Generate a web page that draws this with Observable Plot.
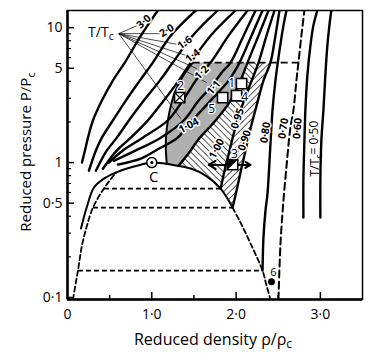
<!DOCTYPE html>
<html>
<head>
<meta charset="utf-8">
<script src="https://cdn.jsdelivr.net/npm/d3@7"></script>
<script src="https://cdn.jsdelivr.net/npm/@observablehq/plot@0.6"></script>
<style>
html,body{margin:0;padding:0;background:#fff;}
#chart svg{display:block;}
</style>
</head>
<body>
<div id="chart"></div>
<script>
// ================= DATA (reduced density rho/rho_c, reduced pressure P/P_c) =================
const xDomain = [0, 3.5];
const yDomain = [0.0966, 13.4];
const xMajorTicks = [0, 1, 2, 3];
const xMinorTicks = [0.5, 1.5, 2.5];
const yMajorTicks = [0.1, 0.5, 1, 5, 10];
const yMinorTicks = [0.2, 0.3, 0.4, 0.6, 0.7, 0.8, 0.9, 2, 3, 4, 6, 7, 8, 9];

// isotherms T/Tc
const t300Rho = [0.172,0.207,0.243,0.302,0.408,0.538,0.680,0.870,1.071];
const t300P   = [1.00,1.23,1.53,2.05,2.88,4.05,5.51,8.72,13.4];
const t200Rho = [0.254,0.337,0.408,0.538,0.692,0.858,1.012,1.225,1.521];
const t200P   = [0.87,1.23,1.53,2.05,2.88,4.05,5.51,8.72,13.4];
const t160Rho = [0.337,0.467,0.586,0.728,0.905,1.095,1.249,1.485,1.781];
const t160P   = [0.87,1.23,1.53,2.05,2.88,4.05,5.51,8.72,13.4];
const t140Rho = [0.420,0.586,0.751,0.953,1.142,1.320,1.462,1.698,1.994];
const t140P   = [0.90,1.23,1.53,2.05,2.88,4.05,5.51,8.72,13.4];
const t120Rho = [0.491,0.657,0.893,1.189,1.367,1.521,1.580,1.698,1.911,2.136];
const t120P   = [1.00,1.23,1.53,2.05,2.88,4.05,4.56,5.51,8.72,13.4];
const t110Rho = [0.550,0.811,1.107,1.379,1.556,1.710,1.828,1.935,2.089,2.231];
const t110P   = [1.03,1.23,1.53,2.05,2.88,3.66,4.64,5.51,8.72,13.4];
const t104Rho = [0.598,0.870,1.047,1.308,1.426,1.698,1.911,2.041,2.183,2.314];
const t104P   = [0.966,1.07,1.23,1.53,1.88,2.88,4.05,5.51,8.72,13.4];
const t100Rho = [1.320,1.462,1.544,1.757,1.935,2.053,2.136,2.266,2.385];
const t100P   = [0.95,1.23,1.46,2.05,2.88,4.05,5.51,8.72,13.4];
const t095Rho = [1.817,1.864,1.923,1.982,2.053,2.148,2.266,2.361,2.456];
const t095P   = [0.642,0.872,1.23,1.73,2.43,3.53,5.51,8.72,13.4];
const t090Rho = [1.959,2.006,2.053,2.112,2.172,2.243,2.325,2.408,2.467,2.515];
const t090P   = [0.464,0.620,0.843,1.23,1.79,2.64,4.05,5.51,8.72,13.4];
const t080Rho = [2.314,2.325,2.349,2.373,2.408,2.432,2.467,2.515,2.562,2.598];
const t080P   = [0.158,0.278,0.441,0.589,1.38,2.43,4.05,6.75,10.35,13.4];
const t070Rho = [2.503,2.527,2.562,2.586,2.645,2.680,2.716,2.740,2.775,2.811];
const t070P   = [0.0966,0.251,0.523,0.774,1.82,2.43,4.05,5.51,8.72,13.4];
const t060Rho = [2.799,2.799,2.811,2.822,2.846,2.882,2.917,2.964];
const t060P   = [0.391,0.736,1.46,2.43,4.41,7.36,10.35,13.4];
const t050Rho = [3.000,3.000,3.012,3.036,3.059,3.083,3.107,3.130];
const t050P   = [0.391,0.736,1.46,2.43,4.41,7.36,10.35,13.4];

// saturation (coexistence) curve, solid
const satRho = [0.160,0.231,0.314,0.432,0.574,0.834,1.000,1.225,1.462,1.639,1.817,1.959];
const satP   = [0.324,0.472,0.653,0.761,0.843,0.950,1.000,0.966,0.903,0.801,0.642,0.464];
// dashed boundary branches
const dashLeftRho  = [0.065,0.101,0.124,0.172,0.231,0.302,0.432,0.574];
const dashLeftP    = [0.0966,0.131,0.158,0.243,0.341,0.464,0.642,0.843];
const dashRightRho = [1.959,2.053,2.172,2.314,2.361,2.408];
const dashRightP   = [0.464,0.359,0.251,0.158,0.123,0.0966];
// dashed tie lines (T/Tc = 0.95, 0.90, 0.80)
const tieP    = [0.642, 0.464, 0.158];
const tieRhoL = [0.432, 0.302, 0.124];
const tieRhoR = [1.817, 1.959, 2.314];
// dashed upper pressure limit
const topDashP = 5.51;
const topDashRho = [1.485, 2.740];
// left boundary of shaded region
const grayLeftRho = [1.178,1.166,1.178,1.213,1.272,1.367,1.485];
const grayLeftP   = [0.973,1.34,1.79,2.43,3.30,4.34,5.51];

// isotherm labels
const isoLabelText = ["3·0","2·0","1·6","1·4","1·2","1·1","1·04","1·00","0·95","0·90","0·80","0·70","0·60"];
const isoLabelRho  = [0.905,1.178,1.391,1.485,1.592,1.734,1.438,1.769,2.018,2.101,2.349,2.562,2.728];
const isoLabelP    = [11.08,9.50,7.74,6.20,4.64,3.59,1.88,1.27,2.12,1.46,1.67,1.79,1.79];
// leader lines from the "T/Tc" label
const leaderOriginRho = 0.609, leaderOriginP = 9.03;
const leaderToRho = [0.846,1.095,1.320,1.414,1.533,1.651,1.343];
const leaderToP   = [10.5,9.03,7.48,6.20,4.97,3.91,2.12];
const tTcLabel = {rho: 0.396, P: 9.18, text: "T/T_c"};
const t050Label = {rho: 2.941, P: 1.27, text: "T/T_c= 0·50"};

// state points
const critRho = 1.0, critP = 1.0;
const sqRho = [2.065, 2.006, 1.840];   // points 1, 4, 5
const sqP   = [3.85, 3.13, 3.03];
const pt2Rho = 1.331, pt2P = 3.03;
const pt3Rho = 1.959, pt3P = 0.966;
const pt6Rho = 2.420, pt6P = 0.131;
const ptLabelText = ["1","2","3","4","5","6","C"];
const ptLabelRho  = [1.947,1.343,1.982,2.101,1.710,2.444,1.024];
const ptLabelP    = [3.85,3.66,1.15,3.03,2.47,0.152,0.774];
const arrowRhoEnds = [1.675, 2.172];
const arrowP = 0.96;

// ================= STYLE =================
const W = 376, H = 360, mL = 67, mR = 14, mT = 10, mB = 61;
const FW = W - mL - mR, FH = H - mT - mB;
const FONT = "'Open Sans', 'DejaVu Sans', sans-serif";
const isoLabelRot = [-42,-32,-35,-38,-45,-50,-28,-62,-72,-72,-82,-82,-85];
const ptLabelSize = [12,12,12,12,12,11,15];
const ptLabelWeight = ["bold","bold","bold","bold","bold","bold","normal"];

// ================= BUILD =================
const S = (rho, P) => rho.map((r, i) => ({rho: r, P: P[i]}));
const solidIso = [
  ["3.0", t300Rho, t300P], ["2.0", t200Rho, t200P], ["1.6", t160Rho, t160P],
  ["1.4", t140Rho, t140P], ["1.2", t120Rho, t120P], ["1.1", t110Rho, t110P],
  ["1.04", t104Rho, t104P], ["1.00", t100Rho, t100P], ["0.95", t095Rho, t095P],
  ["0.90", t090Rho, t090P], ["0.80", t080Rho, t080P], ["0.60", t060Rho, t060P],
  ["0.50", t050Rho, t050P]
];
const isoData = solidIso.flatMap(([t, r, p]) => S(r, p).map(d => ({...d, t})));
const below = d => d.P <= topDashP + 0.01;
const grayPoly = [...S(grayLeftRho, grayLeftP), ...S(t100Rho, t100P).filter(below).reverse()];
const hatchAPoly = [
  ...S(t100Rho, t100P).filter(below),
  ...S(t095Rho, t095P).filter(below).reverse(),
  ...S(satRho, satP).filter(d => d.rho > 1.33 && d.rho < 1.81).reverse()
];
const hatchBPoly = [...S(t095Rho, t095P).filter(below), ...S(t090Rho, t090P).filter(below).reverse()];

const halfSquare = {draw(ctx, size) { const s = Math.sqrt(size) / 2; ctx.moveTo(-s, -s); ctx.lineTo(s, -s); ctx.lineTo(-s, s); ctx.closePath(); }};
const xFmt = d => d === 0 ? "0" : d.toFixed(1).replace(".", "·");
const yFmt = d => String(d).replace(".", "·");

const plot = Plot.plot({
  width: W, height: H, marginLeft: mL, marginRight: mR, marginTop: mT, marginBottom: mB,
  style: {fontFamily: FONT, fontSize: "14px", background: "white", color: "black"},
  x: {domain: xDomain},
  y: {type: "log", domain: yDomain},
  marks: [
    // shaded regions
    Plot.line(grayPoly, {x: "rho", y: "P", fill: "#b0b0b0", stroke: "none"}),
    Plot.line(hatchAPoly, {x: "rho", y: "P", fill: "url(#hatchA)", stroke: "none"}),
    Plot.line(hatchBPoly, {x: "rho", y: "P", fill: "url(#hatchB)", stroke: "none"}),
    // inward ticks
    Plot.ruleX(xMajorTicks.slice(1), {x: d => d, insetTop: FH - 7, strokeWidth: 1.5}),
    Plot.ruleX(xMinorTicks, {x: d => d, insetTop: FH - 4, strokeWidth: 1.5}),
    Plot.ruleY(yMajorTicks, {y: d => d, insetRight: FW - 7, strokeWidth: 1.5}),
    Plot.ruleY(yMinorTicks, {y: d => d, insetRight: FW - 4, strokeWidth: 1.2}),
    // axis tick labels
    Plot.axisX({ticks: xMajorTicks, tickSize: 0, tickPadding: 10, tickFormat: xFmt, fontSize: 14, label: null}),
    Plot.axisY({ticks: yMajorTicks, tickSize: 0, tickPadding: 5, tickFormat: yFmt, fontSize: 14, label: null}),
    // leader lines
    Plot.link(leaderToRho, {x1: () => leaderOriginRho, y1: () => leaderOriginP, x2: d => d, y2: (d, i) => leaderToP[i], strokeWidth: 0.7}),
    // isotherms
    Plot.line(isoData, {x: "rho", y: "P", z: "t", curve: "catmull-rom", strokeWidth: 2.4, clip: true}),
    Plot.line(S(t070Rho, t070P), {x: "rho", y: "P", curve: "catmull-rom", strokeWidth: 2, strokeDasharray: "7,4", clip: true}),
    // coexistence curve and dashed boundaries
    Plot.line(S(satRho, satP), {x: "rho", y: "P", curve: "catmull-rom", strokeWidth: 2}),
    Plot.line(S(dashLeftRho, dashLeftP), {x: "rho", y: "P", curve: "catmull-rom", strokeWidth: 1.8, strokeDasharray: "5,3", clip: true}),
    Plot.line(S(dashRightRho, dashRightP), {x: "rho", y: "P", curve: "catmull-rom", strokeWidth: 1.8, strokeDasharray: "5,3", clip: true}),
    Plot.link(tieP, {x1: (d, i) => tieRhoL[i], x2: (d, i) => tieRhoR[i], y1: d => d, y2: d => d, strokeWidth: 1.8, strokeDasharray: "5,3"}),
    Plot.link([topDashP], {x1: () => topDashRho[0], x2: () => topDashRho[1], y1: d => d, y2: d => d, strokeWidth: 1.8, strokeDasharray: "7,4"}),
    Plot.line(S(grayLeftRho, grayLeftP), {x: "rho", y: "P", curve: "catmull-rom", strokeWidth: 2}),
    // isotherm labels
    Plot.text(isoLabelText, {x: (d, i) => isoLabelRho[i], y: (d, i) => isoLabelP[i], text: d => d, rotate: (d, i) => isoLabelRot[i],
      fontSize: 10.5, fontWeight: "bold", fill: "black", stroke: "white", strokeWidth: 3}),
    Plot.text([tTcLabel], {x: "rho", y: "P", text: "text", fontSize: 14}),
    Plot.text([t050Label], {x: "rho", y: "P", text: "text", rotate: -90, fontSize: 12}),
    // arrows at point 3
    Plot.arrow(arrowRhoEnds, {x1: () => pt3Rho, y1: () => arrowP, x2: d => d, y2: () => arrowP, strokeWidth: 2, headLength: 8}),
    // state points
    Plot.dot([0], {x: () => critRho, y: () => critP, r: 5, fill: "white", stroke: "black", strokeWidth: 1.5}),
    Plot.dot([0], {x: () => critRho, y: () => critP, r: 1.6, fill: "black"}),
    Plot.dot(sqRho, {x: d => d, y: (d, i) => sqP[i], symbol: "square", r: 5.8, fill: "white", stroke: "black", strokeWidth: 1.6}),
    Plot.dot([0], {x: () => pt2Rho, y: () => pt2P, symbol: "square", r: 5.8, fill: "white", stroke: "black", strokeWidth: 1.6}),
    Plot.dot([0], {x: () => pt2Rho, y: () => pt2P, symbol: "times", r: 4, stroke: "black", strokeWidth: 1.2}),
    Plot.dot([0], {x: () => pt3Rho, y: () => pt3P, symbol: "square", r: 5.8, fill: "white", stroke: "black", strokeWidth: 1.6}),
    Plot.dot([0], {x: () => pt3Rho, y: () => pt3P, symbol: halfSquare, r: 5.8, fill: "black"}),
    Plot.dot([0], {x: () => pt6Rho, y: () => pt6P, r: 3.5, fill: "black"}),
    Plot.text(ptLabelText, {x: (d, i) => ptLabelRho[i], y: (d, i) => ptLabelP[i], text: d => d, fontSize: (d, i) => ptLabelSize[i],
      fontWeight: (d, i) => ptLabelWeight[i], fill: "black", stroke: "white", strokeWidth: 2.5}),
    // frame
    Plot.frame({strokeWidth: 1.5}),
    Plot.ruleX([xDomain[0]], {strokeWidth: 2.5}),
    Plot.ruleY([yDomain[0]], {strokeWidth: 2.5}),
    // axis titles
    Plot.text(["Reduced density ρ/ρ_c"], {frameAnchor: "bottom", dy: 40, dx: -2, text: d => d, fontSize: 16,
      textAnchor: "middle", lineAnchor: "middle"}),
    Plot.text(["Reduced pressure P/P_c"], {frameAnchor: "left", dx: -41, dy: -3, rotate: -90, text: d => d, fontSize: 15,
      textAnchor: "middle", lineAnchor: "middle"})
  ]
});

// hatch patterns
const defs = d3.select(plot).insert("defs", ":first-child");
[["hatchA", -45], ["hatchB", 45]].forEach(([id, a]) => {
  const p = defs.append("pattern").attr("id", id).attr("patternUnits", "userSpaceOnUse")
    .attr("width", 4.5).attr("height", 4.5).attr("patternTransform", `rotate(${a})`);
  p.append("rect").attr("width", 4.5).attr("height", 4.5).attr("fill", "white");
  p.append("line").attr("x1", 0).attr("y1", 0).attr("x2", 0).attr("y2", 4.5).attr("stroke", "black").attr("stroke-width", 1.3);
});

// subscript "c"
d3.select(plot).selectAll("text").each(function () {
  const s = this.textContent;
  if (!s.includes("_c")) return;
  const parts = s.split("_c");
  const t = d3.select(this);
  t.text(null);
  parts.forEach((part, i) => {
    const ts = t.append("tspan").text(part);
    if (i > 0) ts.attr("dy", "-0.3em");
    if (i < parts.length - 1) t.append("tspan").text("c").attr("dy", "0.3em").attr("font-size", "0.75em");
  });
});

document.getElementById("chart").appendChild(plot);
</script>
</body>
</html>
